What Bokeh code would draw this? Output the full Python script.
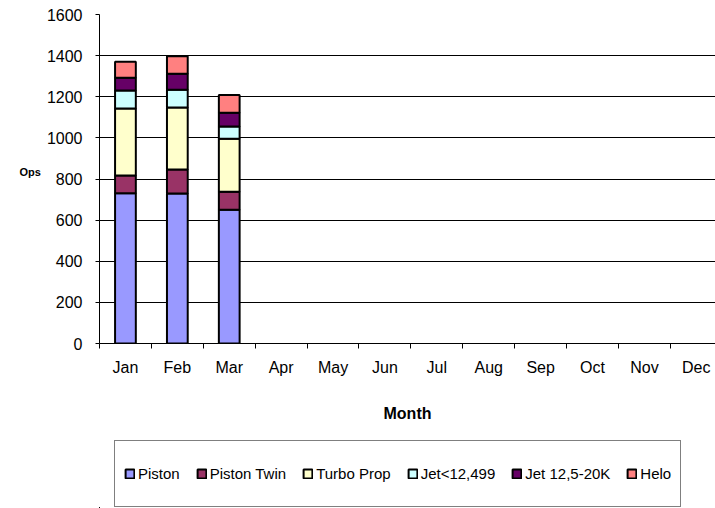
from bokeh.plotting import figure
from bokeh.layouts import column
from bokeh.models import Range1d, FixedTicker, Legend, LegendItem, ColumnDataSource
from bokeh.embed import file_html
from bokeh.resources import INLINE

# ---- data ----
months = ["Jan", "Feb", "Mar", "Apr", "May", "Jun", "Jul", "Aug", "Sep", "Oct", "Nov", "Dec"]
data_months = ["Jan", "Feb", "Mar"]
piston = [731, 730, 650]
piston_twin = [86, 116, 88]
turbo_prop = [326, 302, 258]
jet_small = [88, 86, 59]
jet_mid = [61, 78, 67]
helo = [78, 85, 86]
series_names = ["Piston", "Piston Twin", "Turbo Prop", "Jet<12,499", "Jet 12,5-20K", "Helo"]
y_ticks = [0, 200, 400, 600, 800, 1000, 1200, 1400, 1600]

colors = ["#9999FF", "#993366", "#FFFFCC", "#CCFFFF", "#660066", "#FF8080"]
FONT = "Liberation Sans"

keys = ["s0", "s1", "s2", "s3", "s4", "s5"]
src = ColumnDataSource(dict(
    x=[months.index(m) + 0.5 for m in data_months],
    s0=piston, s1=piston_twin, s2=turbo_prop, s3=jet_small, s4=jet_mid, s5=helo,
))

# ---- main chart ----
p = figure(width=715, height=440,
           x_range=Range1d(0, 11.87), y_range=Range1d(0, 1600),
           output_backend="svg", toolbar_location=None,
           min_border_left=99, min_border_right=0, min_border_top=14, min_border_bottom=97)
p.outline_line_color = None
p.background_fill_color = "white"
p.border_fill_color = "white"

p.vbar_stack(keys, x="x", width=0.4, source=src,
             fill_color=colors, line_color="black", line_width=2)

# x axis: labels at category centers, tick marks at boundaries (minor ticks)
xa = p.xaxis[0]
xa.ticker = FixedTicker(ticks=[i + 0.5 for i in range(len(months))],
                        minor_ticks=list(range(len(months) + 1)))
xa.major_label_overrides = {i + 0.5: m for i, m in enumerate(months)}
xa.major_tick_line_color = None
xa.major_tick_out = 0
xa.major_tick_in = 0
xa.minor_tick_line_color = "black"
xa.minor_tick_out = 5
xa.minor_tick_in = 0
xa.axis_line_color = "black"
xa.major_label_text_font = FONT
xa.major_label_text_font_size = "16px"
xa.major_label_text_color = "black"
xa.major_label_standoff = 10
xa.axis_label = "Month"
xa.axis_label_text_font = FONT
xa.axis_label_text_font_size = "16px"
xa.axis_label_text_font_style = "bold"
xa.axis_label_text_color = "black"
xa.axis_label_standoff = 26

ya = p.yaxis[0]
ya.ticker = FixedTicker(ticks=y_ticks)
ya.major_tick_out = 4
ya.major_tick_in = 0
ya.minor_tick_line_color = None
ya.axis_line_color = "black"
ya.major_tick_line_color = "black"
ya.major_label_text_font = FONT
ya.major_label_text_font_size = "16px"
ya.major_label_text_color = "black"
ya.major_label_standoff = 13
ya.axis_label = "Ops\n "
ya.axis_label_orientation = "horizontal"
ya.axis_label_text_font = FONT
ya.axis_label_text_font_size = "11px"
ya.axis_label_text_font_style = "bold"
ya.axis_label_text_color = "black"
ya.axis_label_standoff = 3

p.xgrid.grid_line_color = None
p.ygrid.ticker = FixedTicker(ticks=y_ticks)
p.ygrid.grid_line_color = "black"
p.ygrid.grid_line_width = 1

# ---- legend strip (separate figure below the chart) ----
# the same stacked series are drawn here outside the visible ranges,
# only so that the legend has real renderers to take its swatches from
lg = figure(width=715, height=68, x_range=Range1d(100, 101), y_range=Range1d(5000, 6000),
            output_backend="svg", toolbar_location=None,
            x_axis_location=None, y_axis_location=None,
            min_border_left=0, min_border_right=0, min_border_top=0, min_border_bottom=0)
lg.grid.visible = False
lg.outline_line_color = None
lg.background_fill_color = "white"
lg.border_fill_color = "white"

lg_renderers = lg.vbar_stack(keys, x="x", width=0.4, source=src,
                             fill_color=colors, line_color="black", line_width=2)
items = [LegendItem(label=n, renderers=[r]) for n, r in zip(series_names, lg_renderers)]

legend = Legend(items=items, orientation="horizontal", location=(15, 1), margin=0,
                label_text_font=FONT, label_text_font_size="15px", label_text_color="black",
                glyph_width=11, glyph_height=11, label_standoff=3, spacing=16,
                padding=9, label_height=47,
                border_line_color="black", border_line_width=1,
                background_fill_color="white", background_fill_alpha=1.0)
lg.add_layout(legend)

layout = column(p, lg, spacing=0)
open("out.html", "w").write(file_html(layout, INLINE))
